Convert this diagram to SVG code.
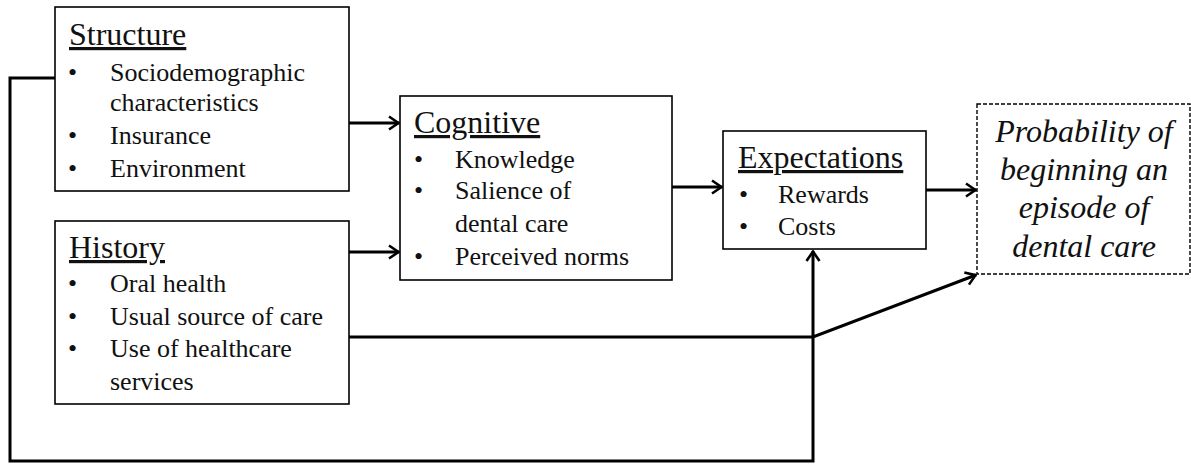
<svg xmlns="http://www.w3.org/2000/svg" width="1191" height="464" viewBox="0 0 1191 464">
<style>
.box{fill:#fff;stroke:#000;stroke-width:1.6}
.dash{fill:#fff;stroke:#000;stroke-width:1.4;stroke-dasharray:4 2}
text{font-family:'Liberation Serif','Times New Roman',serif;fill:#111}
.t{font-size:32px;text-decoration:underline}
.b{font-size:26px}
.i{font-size:32px;font-style:italic}
.c{fill:none;stroke:#000;stroke-width:3}
</style>
<defs>
<marker id="arr" viewBox="0 0 14 16" refX="13" refY="8" markerWidth="14" markerHeight="16" markerUnits="userSpaceOnUse" orient="auto">
<path d="M3,1.5 L12.5,8 L3,14.5" fill="none" stroke="#000" stroke-width="2.6"/>
</marker>
</defs>
<g id="connectors">
<path class="c" d="M349,123 H399" marker-end="url(#arr)"/>
<path class="c" d="M349,252 H399" marker-end="url(#arr)"/>
<path class="c" d="M672,187 H722" marker-end="url(#arr)"/>
<path class="c" d="M926,190 H976" marker-end="url(#arr)"/>
<path class="c" d="M349,337 H813 L976,275" marker-end="url(#arr)"/>
<path class="c" d="M55,78 H10 V461 H813 V251" marker-end="url(#arr)"/>
</g>
<g id="structure">
<rect class="box" x="55" y="7" width="294" height="184"/>
<text class="t" x="69" y="45">Structure</text>
<text class="b" x="68" y="81">•</text><text class="b" x="110" y="81">Sociodemographic</text>
<text class="b" x="110" y="111">characteristics</text>
<text class="b" x="68" y="144">•</text><text class="b" x="110" y="144">Insurance</text>
<text class="b" x="68" y="177">•</text><text class="b" x="110" y="177">Environment</text>
</g>
<g id="history">
<rect class="box" x="55" y="221" width="294" height="183"/>
<text class="t" x="69" y="258">History</text>
<text class="b" x="68" y="292">•</text><text class="b" x="110" y="292">Oral health</text>
<text class="b" x="68" y="325">•</text><text class="b" x="110" y="325">Usual source of care</text>
<text class="b" x="68" y="357">•</text><text class="b" x="110" y="357">Use of healthcare</text>
<text class="b" x="110" y="390">services</text>
</g>
<g id="cognitive">
<rect class="box" x="400" y="96" width="272" height="184"/>
<text class="t" x="414" y="133">Cognitive</text>
<text class="b" x="414" y="168">•</text><text class="b" x="455" y="168">Knowledge</text>
<text class="b" x="414" y="199">•</text><text class="b" x="455" y="199">Salience of</text>
<text class="b" x="455" y="232">dental care</text>
<text class="b" x="414" y="265">•</text><text class="b" x="455" y="265">Perceived norms</text>
</g>
<g id="expectations">
<rect class="box" x="723" y="131" width="203" height="118"/>
<text class="t" x="738" y="168">Expectations</text>
<text class="b" x="739" y="203">•</text><text class="b" x="778" y="203">Rewards</text>
<text class="b" x="739" y="235">•</text><text class="b" x="778" y="235">Costs</text>
</g>
<g id="probability">
<rect class="dash" x="977" y="104" width="213" height="170"/>
<text class="i" x="1084" y="142" text-anchor="middle">Probability of</text>
<text class="i" x="1084" y="180" text-anchor="middle">beginning an</text>
<text class="i" x="1084" y="218" text-anchor="middle">episode of</text>
<text class="i" x="1084" y="257" text-anchor="middle">dental care</text>
</g>
</svg>
